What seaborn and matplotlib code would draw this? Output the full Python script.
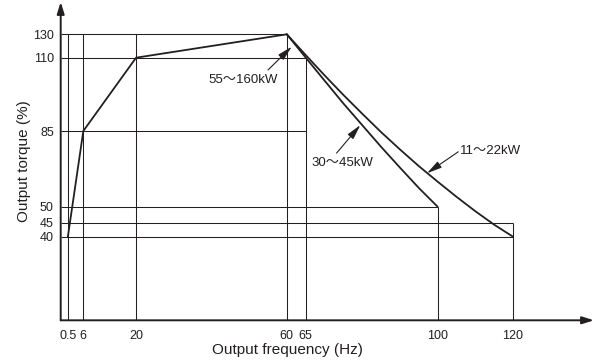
import numpy as np
import matplotlib
matplotlib.use("Agg")
import matplotlib.pyplot as plt
import seaborn as sns

# torque characteristic curves
freq_rise = [0.5, 6, 20, 60]
torque_rise = [40, 85, 110, 130]
freq_30_45 = [60, 65, 70, 75, 80, 85, 90, 95, 100]
torque_30_45 = [130, 110.1, 102.2, 94.4, 87.0, 77.7, 68.1, 58.7, 50]
freq_11_22 = [60, 65, 70, 75, 80, 85, 90, 95, 100, 105, 110, 115, 120]
torque_11_22 = [130, 112.3, 104.0, 97.3, 90.9, 84.5, 76.5, 68.8, 61.6, 54.6, 48.6, 44.3, 40]

x_ticks = [0.5, 6, 20, 60, 65, 100, 120]
x_labels = ["0.5", "6", "20", "60", "65", "100", "120"]
y_ticks = [40, 45, 50, 85, 110, 130]
y_labels = ["40", "45", "50", "85", "110", "130"]

# guide lines: vertical (freq, torque top), horizontal (torque, freq end)
v_guides = [(0.5, 130), (6, 130), (20, 130), (60, 130), (65, 110), (100, 50), (120, 45)]
h_guides = [(130, 60), (110, 65), (85, 65), (50, 100), (45, 120), (40, 120)]

# the drawing is schematic: axes are not linear, so map values piecewise
x_break, x_pos = [0, 0.5, 6, 300], [0, 1.9, 6, 300]
y_break, y_pos = [0, 40, 45, 50, 85, 110, 130, 150], [0, 83.6, 97.6, 113.6, 189.3, 262.6, 286, 318.3]

def xf(v):
    return np.interp(v, x_break, x_pos)

def xi(v):
    return np.interp(v, x_pos, x_break)

def yf(v):
    return np.interp(v, y_break, y_pos)

def yi(v):
    return np.interp(v, y_pos, y_break)

sns.set_style("white")
plt.rcParams["font.family"] = ["Liberation Sans", "Noto Sans CJK JP"]
ink = "#231f20"

fig = plt.figure(figsize=(5.94, 3.62), dpi=100)
ax = fig.add_axes([60.7 / 594, (362 - 320.3) / 362, (594 - 60.7) / 594, (320.3 - 2) / 362])

for x, top in v_guides:
    ax.vlines(x, 0, top, color=ink, lw=0.75)
for y, right in h_guides:
    ax.hlines(y, 0, right, color=ink, lw=0.75)

for fx, ty in [(freq_rise, torque_rise), (freq_30_45, torque_30_45), (freq_11_22, torque_11_22)]:
    sns.lineplot(x=fx, y=ty, ax=ax, color=ink, lw=1.3, sort=False, estimator=None)

ax.set_xscale("function", functions=(xf, xi))
ax.set_yscale("function", functions=(yf, yi))
ax.set_xlim(0, 141.5)
ax.set_ylim(0, 150)

ax.set_xticks(x_ticks)
ax.set_xticklabels(x_labels)
ax.set_yticks(y_ticks)
ax.set_yticklabels(y_labels)
ax.minorticks_off()
ax.tick_params(axis="both", length=0, labelsize=9, colors=ink)
ax.tick_params(axis="x", pad=7)
ax.tick_params(axis="y", pad=5)
ax.set_xlabel("Output frequency (Hz)", fontsize=11, color=ink)
ax.xaxis.set_label_coords(0.426, -0.071)
ax.set_ylabel("Output torque (%)", fontsize=11, color=ink, labelpad=1)

for s in ax.spines.values():
    s.set_visible(False)
head = "-|>,head_length=0.7,head_width=0.22"
ax.annotate("", xy=(1.0, 0), xytext=(0, 0), xycoords="axes fraction",
            arrowprops=dict(arrowstyle=head, color=ink, lw=1.4, shrinkA=0, shrinkB=0), annotation_clip=False)
ax.annotate("", xy=(0, 1.0), xytext=(0, 0), xycoords="axes fraction",
            arrowprops=dict(arrowstyle=head, color=ink, lw=1.4, shrinkA=0, shrinkB=0), annotation_clip=False)

# callouts
callouts = [
    ("55〜160kW", (61.3, 119.4), (55.0, 105.8), (39.1, 102.4)),
    ("30〜45kW", (79.5, 87.0), (73.2, 74.8), (66.6, 70.2)),
    ("11〜22kW", (97.2, 65.5), (105.5, 75.4), (106.0, 75.9)),
]
lab_arrow = "-|>,head_length=0.9,head_width=0.22"
for txt, tip, tail, pos in callouts:
    ax.annotate("", xy=tip, xytext=tail,
                arrowprops=dict(arrowstyle=lab_arrow, color=ink, lw=0.8, shrinkA=0, shrinkB=0))
    ax.text(pos[0], pos[1], txt, fontsize=9.5, color=ink, ha="left", va="center")

fig.savefig("out.png", dpi=100)
